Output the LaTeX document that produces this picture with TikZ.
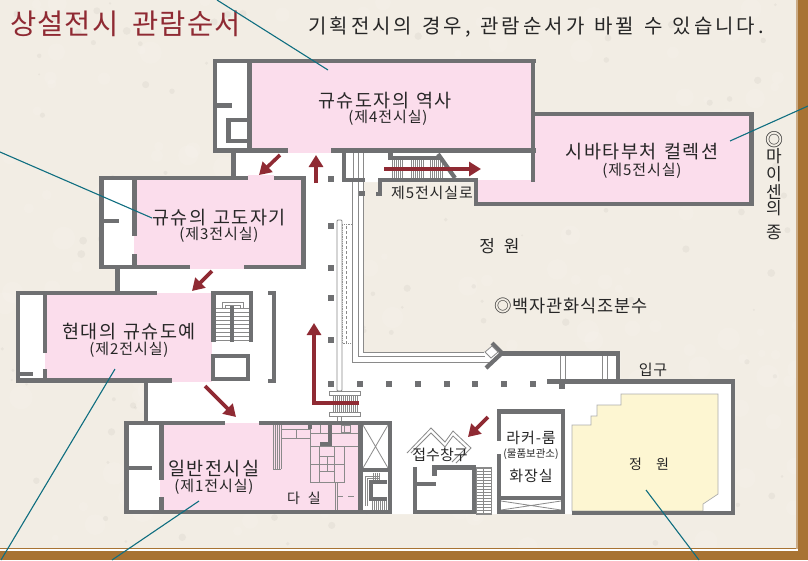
\documentclass[tikz,border=0pt]{standalone}
\usepackage{fontspec}
\setmainfont{Noto Sans CJK KR}
\usetikzlibrary{arrows.meta}
\definecolor{bgc}{HTML}{F2EDE4}
\definecolor{wallc}{HTML}{6F7072}
\definecolor{pinkc}{HTML}{FBDDEC}
\definecolor{redc}{HTML}{8F2A33}
\definecolor{tealc}{HTML}{0F6E80}
\definecolor{brownc}{HTML}{A87333}
\definecolor{yellowc}{HTML}{FDF6D2}
\definecolor{thinc}{HTML}{8A8A8A}
\newcommand{\bigfont}{\fontsize{18.5}{20}\selectfont\addfontfeature{LetterSpace=8}}
\newcommand{\smfont}{\fontsize{15}{17}\selectfont\addfontfeature{LetterSpace=6}}
\newcommand{\gp}[1]{\hspace{#1pt}}
\tikzset{
  lab/.style={inner sep=0pt,text=black!85,font=\bigfont,yshift=-1.5pt},
  sub/.style={inner sep=0pt,text=black!85,font=\smfont,yshift=-1.5pt},
  leader/.style={draw=tealc,line width=1.1pt},
  flow/.style={draw=redc,line width=3.6pt,-{Triangle[length=12pt,width=14pt]}},
  thin line/.style={draw=thinc,line width=0.8pt},
  railc/.style={draw=thinc,line width=0.9pt,fill=white},
  treads/.style={draw=thinc,line width=0.7pt}
}
\begin{document}
\begin{tikzpicture}[x=1pt,y=-1pt]
\useasboundingbox (0,0) rectangle (808,560);
% ground
\fill[bgc] (0,0) rectangle (808,560);
\pgfmathsetseed{4242}
\foreach \i in {1,...,320}{
  \pgfmathsetmacro{\px}{rnd*800}
  \pgfmathsetmacro{\py}{rnd*550}
  \pgfmathsetmacro{\pr}{1+rnd*3}
  \pgfmathsetmacro{\po}{rnd}
  \ifdim\po pt<0.4pt
    \fill[black!50!bgc,opacity=0.07] (\px,\py) circle (\pr);
  \else
    \fill[white,opacity=0.10] (\px,\py) circle (\pr*3);
  \fi
}
% floor
\fill[white] (214,59)--(535,59)--(535,182)--(363,182)--(363,352)--(620,352)--(620,380)--(735,380)--(735,514)--(124,514)--(124,421)--(148,421)--(148,383)--(16,383)--(16,291)--(115,291)--(115,269)--(99,269)--(99,176)--(231,176)--(231,153)--(214,153)--cycle;
% pink rooms
\fill[pinkc] (250,62) rectangle (532,149);
\fill[pinkc] (288,149) rectangle (331,153);
\fill[pinkc] (533,115) rectangle (750,203);
\fill[pinkc] (477,180) rectangle (535,203);
\fill[pinkc] (134,178) rectangle (302,266);
\fill[pinkc] (248,175) rectangle (274,180);
\fill[pinkc] (190,264) rectangle (244,269);
\fill[pinkc] (45,293) rectangle (212,380);
\fill[pinkc] (172,378) rectangle (212,382);
\fill[pinkc] (160,423) rectangle (360,511);
% white corridor to room 5
\fill[white] (343,153) rectangle (531,178);
% yellow garden
\filldraw[fill=yellowc,draw=thinc!70,line width=0.7pt] (572,425)--(591,425)--(591,416)--(597,416)--(597,405)--(621,405)--(621,394)--(718,394)--(718,494)--(703,504)--(703,511)--(572,511)--cycle;
% tea room thin lines
\foreach \x in {273,275,277,279,281}{\draw[thin line,line width=0.6pt] (\x,425)--(\x,469);}
\draw[thin line] (273,469)--(281,469);
\draw[thin line] (281,429)--(310,429) (281,438)--(310,438) (296,429)--(296,438);
\draw[thin line] (310,425)--(310,446) (310,433)--(328,433) (320,425)--(320,433);
\draw[thin line] (310,446) rectangle (344,482);
\draw[thin line] (310,464)--(344,464) (319,446)--(319,482) (334,446)--(334,482);
\draw[thin line] (319,456)--(334,456) (319,471)--(334,471) (327,456)--(327,471);
\draw[thin line] (332,433)--(358,433) (332,446)--(358,446);
\draw[thin line] (341,425) rectangle (350,432);
\draw[thin line] (344,426)--(344,432);
\draw[thin line] (335,482)--(335,510) (337.5,482)--(337.5,510);
\draw[thin line,dash pattern=on 6pt off 5pt] (337,496)--(358,496);
% rails along garden
\draw[thin line,line width=1pt] (352.5,182)--(352.5,362.5)--(489,362.5);
\draw[thin line,line width=1pt] (358,153)--(358,356.5)--(485,356.5);
\draw[thin line,line width=1pt] (363,153)--(363,352)--(484,352);
\draw[thin line,line width=1pt] (353,153)--(353,182);
\draw[thin line,densely dotted,line width=0.6pt] (352,224)--(342,224)--(342,343)--(352,343);
\draw[thin line,densely dashed,line width=0.6pt] (346,226)--(346,343);
% main stair in corridor
\draw[railc,rounded corners=1pt] (337,220) rectangle (342,391);
\foreach \x in {333,335,...,357}{\draw[treads] (\x,395)--(\x,412);}
\draw[railc] (329,391) rectangle (360,395);
\draw[railc] (329,412) rectangle (360,416);
\draw[thin line] (337,416)--(337,421) (341,416)--(341,421);
% stairs to room 5
\foreach \x in {392,394,...,403,411,413,...,423,430,432,...,442}{\draw[treads] (\x,160)--(\x,178);}
% stairs beside room 2
\foreach \y in {308,312,...,341}{\draw[treads] (216,\y)--(249,\y);}
\draw[thin line] (222,308)--(222,302)--(243,302)--(243,308);
\draw[thin line] (225,308)--(225,305)--(240,305)--(240,308);
% reception stairs
\foreach \y in {468,471,...,513}{\draw[treads] (476,\y)--(491,\y);}
\draw[thin line] (476,467) rectangle (491,514);
\draw[thin line] (483,467)--(483,514);
% lower stair
\foreach \x in {373,375,377,379}{\draw[treads] (\x,473)--(\x,481);}
\foreach \x in {372,374,...,386}{\draw[treads] (\x,501)--(\x,510);}
\draw[thin line] (365,506)--(365,476)--(379,476) (367.5,506)--(367.5,478)--(379,478);
% cross box
\draw[thin line] (363,425)--(388,468) (388,425)--(363,468);
\draw[thin line] (501,501)--(561,510) (561,501)--(501,510);
% entrance lines
\draw[thin line] (560,356) -- (560,380) (565,356)--(565,380) (602,356)--(602,380) (607,356)--(607,380);
% counter
\draw[thin line,fill=white] (407,453)--(431,428)--(445,442)--(453,431)--(471,448)--(456,463);
\draw[thin line] (411,453)--(431,433)--(445,447)--(453,436)--(466,448)--(452,462);
% walls
\foreach \a/\b/\c/\d in {
213/59/536/63, 213/59/217/153, 247/63/252/148, 213/148/288/153, 331/148/536/153, 531/59/535/182,
217/103/232/108, 226/118/252/122, 226/118/231/143, 226/139/252/143,
231/153/236/176, 342/153/346/182, 342/178/365/182, 359/191/365/196,
388/153/393/160, 388/156/440/160, 378/178/478/182, 378/178/382/196, 376/192/382/196,
474/178/478/206, 474/202/754/206, 749/112/754/206, 535/112/754/116, 531/178/535/182,
99/176/248/180, 274/176/306/180, 301/176/306/269, 99/265/190/269, 244/265/306/269,
99/176/104/269, 132/180/137/236, 132/254/137/265, 104/219/119/223,
115/269/120/293, 16/291/157/295, 16/291/20/383, 43/295/47/353, 43/369/47/379,
16/378/172/383, 20/372/33/376,
211/291/253/295, 211/291/216/342, 249/291/253/342, 230/306/234/342,
211/354/250/358, 211/354/215/381, 246/354/250/381, 211/377/250/381,
268/291/276/295, 272/291/276/383, 268/379/276/383,
144/383/148/421, 124/421/225/425, 259/421/392/425, 124/510/392/514, 124/421/129/514,
159/425/164/480, 159/497/164/510, 129/466/152/470,
308/425/312/429, 328/425/332/446, 320/442/332/446,
358/425/363/514, 388/421/392/514, 363/468/388/472,
369/480/387/484, 369/480/373/501, 369/497/387/501,
502/351/620/356, 616/351/620/380, 547/379/735/384, 731/380/735/515, 572/511/735/515,
559/384/565/389,
497/409/565/414, 497/409/501/441, 497/454/501/514, 561/409/565/514, 497/510/565/514, 497/496/565/500,
413/467/417/514, 413/510/476/514, 432/465/476/470, 432/465/437/476, 417/482/436/486, 472/465/476/514
}{\fill[wallc] (\a,\b) rectangle (\c,\d);}
\fill[white] (393,153.5) rectangle (435,156);
\draw[wallc,line width=4.2pt] (438,154)--(455,178);
\draw[wallc,line width=4.2pt] (486,368)--(502,353);
\draw[wallc,line width=4.2pt] (492,343)--(502,353);
\draw[thin line,fill=white] (485,352)--(492,346)--(498,352)--(491,358)--cycle;
% pillars
\foreach \x/\y in {331/179,331/226,331/268,331/298,331/340,331/384,360/384,389/384,418/384,447/384,475/384,504/384,533/384}{
  \fill[wallc] (\x-3,\y-3) rectangle (\x+3,\y+3);
}
% flow arrows
\draw[flow] (280,155)--(259,175);
\draw[flow] (316,183)--(316,155);
\draw[flow] (384,169)--(481,169);
\draw[flow] (212,271)--(192,291);
\draw[flow] (205,386)--(236,417);
\draw[flow] (488,417)--(468,437);
\draw[flow] (359,403)--(314,403)--(314,323);
% texts
\node[inner sep=0pt,text=redc,anchor=west,font=\fontsize{28.5}{30}\selectfont\addfontfeature{LetterSpace=4}] (title) at (10,24) {상설전시\gp{14}관람순서};
\node[lab,anchor=west,font=\fontsize{20}{22}\selectfont\addfontfeature{LetterSpace=15}] (note) at (308,26) {기획전시의\gp{10}경우,\gp{10}관람순서가\gp{10}바뀔\gp{10}수\gp{10}있습니다.};
\node[lab] (r4) at (385,99) {규슈도자의\gp{7}역사};
\node[sub] (r4s) at (388,116) {(제4전시실)};
\node[lab] (r5) at (642,150) {시바타부처\gp{7}컬렉션};
\node[sub] (r5s) at (642,169) {(제5전시실)};
\node[lab] (r3) at (219,216) {규슈의\gp{7}고도자기};
\node[sub] (r3s) at (219,233) {(제3전시실)};
\node[lab] (r2) at (129,330) {현대의\gp{7}규슈도예};
\node[sub] (r2s) at (129,348) {(제2전시실)};
\node[lab] (r1) at (214,467) {일반전시실};
\node[sub] (r1s) at (214,485) {(제1전시실)};
\node[sub,font=\fontsize{14}{16}\selectfont] (tea) at (304,497) {다\hspace{8pt}실};
\node[sub] (to5) at (432,191) {제5전시실로};
\node[lab,font=\fontsize{17}{18}\selectfont] (g1) at (499.5,245) {정\hspace{9pt}원};
\node[lab,font=\fontsize{17.5}{18}\selectfont\addfontfeature{LetterSpace=5}] (foun) at (571,304) {◎백자관화식조분수};
\node[sub,font=\fontsize{18}{18}\selectfont] (b0) at (774,138) {◎};
\node[lab,font=\fontsize{17}{18}\selectfont] (b1) at (774,155) {마};
\node[lab,font=\fontsize{17}{18}\selectfont] (b2) at (774,173) {이};
\node[lab,font=\fontsize{17}{18}\selectfont] (b3) at (774,190) {센};
\node[lab,font=\fontsize{17}{18}\selectfont] (b4) at (774,207) {의};
\node[lab,font=\fontsize{17}{18}\selectfont] (b5) at (774,231) {종};
\node[sub] (ent) at (653,368) {입구};
\node[lab,font=\fontsize{15}{16}\selectfont] (rec) at (440,453) {접수창구};
\node[sub] (lk) at (531,436) {라커-룸};
\node[sub,font=\fontsize{10.5}{13}\selectfont] (lk2) at (531,453) {(물품보관소)};
\node[sub] (wc) at (531,474) {화장실};
\node[sub,font=\fontsize{14}{16}\selectfont] (g2) at (649,463) {정\hspace{14pt}원};
% frame
\fill[brownc] (798,0) rectangle (808,560);
\fill[brownc] (0,551) rectangle (808,560);
\fill[brownc!60!white] (796,0) rectangle (798,551);
\fill[white] (0,549.2) rectangle (798,551);
\fill[brownc] (0,547.8) rectangle (796,549.2);
% leaders
\draw[leader] (217,0)--(328,70);
\draw[leader] (0,152)--(152,218);
\draw[leader] (115,369)--(1,560);
\draw[leader] (199,501)--(112,560);
\draw[leader] (646,490)--(699,560);
\draw[leader] (730,141)--(808,106);
\end{tikzpicture}
\end{document}
